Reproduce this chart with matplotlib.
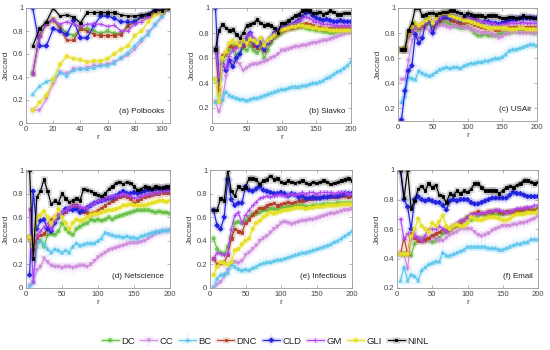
import matplotlib
matplotlib.use("Agg")
import matplotlib.pyplot as plt
import matplotlib.patheffects as pe
import numpy as np

plt.rcParams['font.family'] = ['Liberation Sans', 'DejaVu Sans']

methods = ['DC', 'CC', 'BC', 'DNC', 'CLD', 'GM', 'GLI', 'NINL']
colors = ['#5ec43a', '#d08ae0', '#5ac8f0', '#b0402a', '#2222dd', '#b044f0', '#e6e025', '#000000']
markers = ['o', 'v', '^', 's', 'D', '+', 'o', 's']
filled = [False, False, False, True, True, True, True, True]

r_a = list(range(5, 106, 5))
r_full = list(range(5, 201, 5))

# (a) Polbooks
a_DC = [0.43,0.76,0.86,0.90,0.84,0.78,0.76,0.82,0.82,0.80,0.78,0.80,0.78,0.78,0.84,0.88,0.92,0.93,0.97,0.98,1.0]
a_CC = [0.11,0.11,0.21,0.34,0.44,0.43,0.47,0.47,0.48,0.50,0.50,0.51,0.53,0.56,0.59,0.64,0.71,0.79,0.85,0.92,1.0]
a_BC = [0.25,0.32,0.36,0.38,0.44,0.41,0.46,0.47,0.47,0.48,0.50,0.50,0.52,0.57,0.61,0.67,0.73,0.77,0.86,0.93,1.0]
a_DNC = [0.43,0.76,0.86,0.90,0.82,0.72,0.72,0.82,0.80,0.77,0.76,0.76,0.76,0.77,0.85,0.88,0.92,0.93,0.98,0.98,1.0]
a_CLD = [1.0,0.67,0.67,0.82,0.80,0.77,0.89,0.74,0.74,0.85,0.93,0.93,0.91,0.88,0.88,0.88,0.93,0.94,0.99,0.98,1.0]
a_GM = [0.43,0.76,0.86,0.90,0.86,0.88,0.86,0.84,0.86,0.86,0.86,0.84,0.85,0.80,0.80,0.86,0.88,0.92,0.96,0.98,1.0]
a_GLI = [0.11,0.18,0.24,0.38,0.51,0.58,0.56,0.55,0.53,0.54,0.54,0.56,0.60,0.64,0.67,0.76,0.80,0.88,0.94,0.96,1.0]
a_NINL = [0.67,0.82,0.88,1.0,0.93,0.94,0.92,0.87,0.96,0.96,0.96,0.96,0.96,0.94,0.93,0.93,0.94,0.95,0.98,0.98,1.0]

# (b) Slavko
b_DC = [0.43,0.30,0.58,0.62,0.66,0.70,0.62,0.64,0.68,0.66,0.70,0.66,0.64,0.68,0.60,0.66,0.72,0.76,0.78,0.80,0.82,0.83,0.84,0.84,0.85,0.85,0.84,0.83,0.83,0.82,0.82,0.81,0.81,0.80,0.80,0.81,0.81,0.81,0.81,0.81]
b_CC = [0.25,0.17,0.26,0.45,0.55,0.57,0.57,0.55,0.50,0.52,0.54,0.55,0.55,0.56,0.57,0.58,0.60,0.61,0.63,0.66,0.66,0.67,0.68,0.69,0.69,0.70,0.70,0.71,0.72,0.72,0.73,0.74,0.74,0.75,0.76,0.77,0.78,0.79,0.80,0.80]
b_BC = [0.25,0.25,0.27,0.33,0.30,0.29,0.28,0.27,0.27,0.26,0.27,0.28,0.28,0.29,0.30,0.31,0.32,0.33,0.34,0.35,0.35,0.36,0.37,0.37,0.37,0.38,0.38,0.39,0.40,0.40,0.41,0.42,0.44,0.45,0.47,0.49,0.50,0.52,0.54,0.57]
b_DNC = [0.67,0.35,0.62,0.64,0.70,0.68,0.70,0.72,0.70,0.72,0.74,0.70,0.68,0.72,0.66,0.72,0.75,0.78,0.80,0.82,0.83,0.84,0.84,0.85,0.86,0.87,0.88,0.87,0.86,0.85,0.85,0.84,0.84,0.84,0.84,0.84,0.84,0.84,0.84,0.84]
b_CLD = [1.0,0.43,0.55,0.50,0.58,0.53,0.60,0.63,0.72,0.75,0.80,0.73,0.70,0.74,0.67,0.72,0.76,0.80,0.82,0.84,0.86,0.86,0.86,0.88,0.90,0.93,0.96,0.97,0.94,0.92,0.91,0.90,0.91,0.90,0.89,0.89,0.90,0.89,0.89,0.89]
b_GM = [0.67,0.45,0.55,0.52,0.62,0.66,0.68,0.70,0.74,0.78,0.80,0.76,0.72,0.76,0.70,0.74,0.77,0.80,0.82,0.84,0.85,0.86,0.87,0.88,0.90,0.92,0.93,0.92,0.90,0.89,0.88,0.87,0.87,0.87,0.86,0.86,0.86,0.86,0.86,0.86]
b_GLI = [0.43,0.25,0.60,0.65,0.72,0.74,0.72,0.70,0.74,0.72,0.75,0.74,0.72,0.76,0.70,0.74,0.76,0.78,0.80,0.82,0.83,0.84,0.85,0.85,0.86,0.86,0.85,0.85,0.84,0.84,0.83,0.83,0.83,0.82,0.82,0.82,0.82,0.82,0.82,0.82]
b_NINL = [0.67,0.82,0.87,0.84,0.82,0.83,0.79,0.76,0.80,0.86,0.87,0.88,0.91,0.88,0.86,0.87,0.86,0.84,0.80,0.88,0.88,0.90,0.92,0.94,0.95,0.98,0.99,0.98,0.96,0.96,0.97,0.95,0.96,0.98,0.97,0.95,0.95,0.96,0.96,0.96]

# (c) USAir
c_DC = [0.67,0.67,0.78,0.82,0.84,0.82,0.84,0.86,0.88,0.84,0.86,0.88,0.89,0.88,0.87,0.86,0.85,0.84,0.84,0.85,0.83,0.80,0.78,0.78,0.79,0.78,0.78,0.78,0.79,0.80,0.80,0.80,0.81,0.81,0.81,0.81,0.81,0.81,0.80,0.80]
c_CC = [0.43,0.43,0.58,0.74,0.80,0.76,0.86,0.84,0.82,0.80,0.84,0.86,0.86,0.85,0.84,0.85,0.86,0.85,0.84,0.84,0.83,0.82,0.81,0.80,0.80,0.80,0.79,0.78,0.76,0.77,0.79,0.80,0.81,0.81,0.80,0.80,0.80,0.80,0.80,0.80]
c_BC = [0.25,0.30,0.45,0.44,0.43,0.50,0.48,0.47,0.46,0.47,0.49,0.51,0.52,0.53,0.52,0.53,0.53,0.52,0.54,0.55,0.56,0.56,0.57,0.57,0.58,0.58,0.59,0.60,0.60,0.61,0.63,0.66,0.67,0.67,0.68,0.69,0.70,0.71,0.71,0.70]
c_DNC = [0.67,0.67,0.80,0.82,0.86,0.84,0.86,0.88,0.90,0.86,0.88,0.90,0.92,0.92,0.91,0.90,0.89,0.88,0.88,0.89,0.88,0.87,0.86,0.85,0.84,0.84,0.84,0.83,0.83,0.84,0.84,0.85,0.85,0.85,0.85,0.85,0.85,0.85,0.85,0.85]
c_CLD = [0.11,0.34,0.50,0.54,0.79,0.72,0.76,0.89,0.90,0.80,0.89,0.92,0.93,0.93,0.92,0.93,0.92,0.90,0.91,0.93,0.92,0.91,0.89,0.88,0.89,0.89,0.88,0.88,0.87,0.88,0.89,0.90,0.91,0.91,0.92,0.92,0.92,0.92,0.92,0.92]
c_GM = [0.67,0.67,0.78,0.82,0.85,0.85,0.88,0.90,0.92,0.88,0.90,0.93,0.95,0.95,0.94,0.93,0.92,0.92,0.91,0.92,0.92,0.91,0.90,0.89,0.89,0.88,0.88,0.87,0.86,0.87,0.87,0.88,0.88,0.88,0.88,0.89,0.88,0.88,0.88,0.88]
c_GLI = [0.67,0.67,0.80,0.85,0.88,0.86,0.88,0.90,0.92,0.88,0.92,0.95,0.96,0.96,0.94,0.93,0.92,0.91,0.90,0.90,0.89,0.88,0.87,0.86,0.85,0.84,0.84,0.84,0.84,0.84,0.84,0.83,0.83,0.83,0.84,0.84,0.83,0.83,0.83,0.83]
c_NINL = [0.67,0.67,0.82,0.88,1.0,1.0,0.94,0.95,0.96,0.96,0.95,0.96,0.97,0.97,0.98,0.98,0.97,0.96,0.94,0.96,0.95,0.94,0.94,0.94,0.93,0.94,0.94,0.94,0.93,0.92,0.92,0.93,0.93,0.92,0.92,0.94,0.93,0.93,0.92,0.92]

# (d) Netscience
d_DC = [0.43,0.30,0.38,0.40,0.35,0.45,0.46,0.45,0.48,0.55,0.50,0.47,0.45,0.50,0.52,0.54,0.55,0.58,0.57,0.58,0.57,0.58,0.60,0.58,0.60,0.61,0.62,0.63,0.64,0.65,0.66,0.66,0.66,0.66,0.65,0.64,0.65,0.64,0.64,0.63]
d_CC = [0.02,0.05,0.15,0.18,0.25,0.22,0.19,0.18,0.18,0.17,0.18,0.18,0.17,0.18,0.19,0.19,0.18,0.20,0.23,0.26,0.28,0.30,0.32,0.33,0.34,0.35,0.36,0.37,0.38,0.38,0.38,0.39,0.40,0.42,0.44,0.46,0.47,0.48,0.48,0.49]
d_BC = [0.0,0.05,0.35,0.40,0.37,0.33,0.30,0.33,0.32,0.30,0.32,0.30,0.35,0.38,0.36,0.37,0.38,0.38,0.38,0.40,0.42,0.47,0.46,0.45,0.44,0.44,0.43,0.44,0.43,0.43,0.42,0.44,0.45,0.46,0.47,0.48,0.48,0.49,0.49,0.49]
d_DNC = [0.43,0.33,0.43,0.45,0.46,0.50,0.58,0.60,0.62,0.64,0.65,0.68,0.70,0.70,0.68,0.65,0.64,0.63,0.64,0.66,0.68,0.70,0.72,0.74,0.76,0.77,0.78,0.77,0.76,0.72,0.74,0.76,0.77,0.78,0.79,0.80,0.80,0.81,0.81,0.81]
d_CLD = [0.11,0.82,0.50,0.57,0.58,0.50,0.48,0.55,0.60,0.63,0.67,0.67,0.66,0.67,0.64,0.66,0.68,0.70,0.72,0.73,0.74,0.75,0.76,0.77,0.78,0.80,0.82,0.80,0.80,0.81,0.80,0.81,0.82,0.83,0.83,0.84,0.84,0.84,0.84,0.84]
d_GM = [0.67,0.05,0.45,0.48,0.52,0.55,0.50,0.58,0.62,0.64,0.66,0.68,0.70,0.70,0.69,0.68,0.68,0.70,0.72,0.74,0.75,0.76,0.77,0.78,0.78,0.79,0.80,0.79,0.78,0.76,0.77,0.78,0.79,0.80,0.80,0.81,0.81,0.82,0.82,0.82]
d_GLI = [0.43,0.35,0.60,0.62,0.65,0.60,0.55,0.60,0.67,0.60,0.55,0.50,0.55,0.58,0.57,0.58,0.60,0.62,0.63,0.63,0.64,0.65,0.66,0.66,0.67,0.68,0.70,0.70,0.71,0.70,0.70,0.70,0.70,0.71,0.72,0.73,0.74,0.74,0.73,0.74]
d_NINL = [1.0,0.25,0.77,0.82,0.92,0.82,0.71,0.74,0.72,0.80,0.76,0.73,0.74,0.76,0.74,0.84,0.83,0.82,0.80,0.79,0.78,0.80,0.84,0.86,0.89,0.90,0.88,0.90,0.89,0.86,0.83,0.84,0.86,0.85,0.84,0.86,0.85,0.85,0.86,0.86]

# (e) Infectious
e_DC = [0.42,0.33,0.30,0.29,0.35,0.43,0.55,0.56,0.55,0.57,0.60,0.63,0.63,0.64,0.66,0.66,0.67,0.67,0.66,0.68,0.68,0.69,0.69,0.70,0.70,0.70,0.69,0.69,0.70,0.70,0.70,0.71,0.71,0.71,0.71,0.72,0.72,0.72,0.72,0.72]
e_CC = [0.0,0.03,0.05,0.10,0.15,0.20,0.22,0.21,0.23,0.28,0.30,0.33,0.36,0.40,0.42,0.44,0.47,0.50,0.52,0.55,0.56,0.55,0.54,0.55,0.56,0.57,0.57,0.58,0.58,0.59,0.60,0.61,0.62,0.63,0.63,0.64,0.65,0.66,0.66,0.67]
e_BC = [0.0,0.08,0.11,0.12,0.13,0.20,0.18,0.16,0.15,0.16,0.15,0.17,0.18,0.20,0.21,0.22,0.22,0.23,0.24,0.24,0.25,0.26,0.27,0.28,0.29,0.30,0.30,0.31,0.32,0.33,0.34,0.35,0.36,0.37,0.39,0.40,0.42,0.44,0.46,0.48]
e_DNC = [0.25,0.20,0.21,0.22,0.28,0.42,0.50,0.48,0.47,0.55,0.58,0.62,0.65,0.68,0.68,0.70,0.71,0.72,0.70,0.71,0.72,0.73,0.72,0.73,0.74,0.74,0.75,0.76,0.76,0.77,0.77,0.77,0.77,0.77,0.77,0.77,0.78,0.78,0.77,0.78]
e_CLD = [0.66,0.53,0.50,0.60,0.92,0.75,0.70,0.72,0.72,0.86,0.83,0.82,0.84,0.86,0.83,0.82,0.81,0.80,0.80,0.81,0.80,0.78,0.80,0.79,0.77,0.78,0.76,0.76,0.77,0.76,0.76,0.77,0.77,0.78,0.78,0.78,0.79,0.80,0.80,0.80]
e_GM = [0.25,0.30,0.29,0.28,0.30,0.50,0.62,0.64,0.55,0.62,0.66,0.70,0.73,0.76,0.77,0.78,0.77,0.78,0.79,0.79,0.78,0.79,0.80,0.79,0.80,0.81,0.80,0.81,0.81,0.80,0.81,0.81,0.81,0.81,0.80,0.81,0.81,0.81,0.80,0.80]
e_GLI = [0.11,0.18,0.22,0.21,0.20,0.22,0.32,0.33,0.37,0.40,0.42,0.50,0.55,0.57,0.60,0.62,0.64,0.63,0.64,0.65,0.66,0.66,0.67,0.68,0.68,0.68,0.67,0.68,0.68,0.69,0.69,0.69,0.70,0.70,0.70,0.70,0.71,0.71,0.71,0.71]
e_NINL = [0.66,0.66,0.76,0.74,1.0,0.82,0.78,0.86,0.84,0.85,0.93,0.93,0.92,0.88,0.91,0.92,0.95,0.92,0.93,0.90,0.89,0.91,0.90,0.89,0.90,0.91,0.89,0.88,0.90,0.89,0.90,0.91,0.90,0.88,0.89,0.90,0.91,0.92,0.93,0.91]

# (f) Email
f_DC = [0.43,0.43,0.43,0.42,0.50,0.53,0.54,0.52,0.53,0.51,0.52,0.54,0.57,0.58,0.59,0.61,0.62,0.64,0.66,0.68,0.66,0.67,0.69,0.70,0.69,0.69,0.70,0.70,0.70,0.70,0.71,0.71,0.71,0.71,0.72,0.72,0.73,0.73,0.73,0.74]
f_CC = [0.43,0.43,0.33,0.55,0.57,0.54,0.52,0.53,0.52,0.55,0.53,0.52,0.52,0.54,0.56,0.57,0.58,0.60,0.60,0.60,0.60,0.58,0.56,0.55,0.56,0.57,0.59,0.60,0.61,0.62,0.62,0.62,0.63,0.63,0.64,0.64,0.65,0.66,0.67,0.69]
f_BC = [0.25,0.34,0.25,0.29,0.28,0.25,0.32,0.34,0.36,0.37,0.38,0.38,0.44,0.42,0.42,0.43,0.44,0.45,0.46,0.48,0.48,0.48,0.48,0.48,0.48,0.47,0.47,0.47,0.46,0.46,0.47,0.48,0.49,0.50,0.50,0.51,0.51,0.53,0.53,0.53]
f_DNC = [0.43,0.54,0.43,0.57,0.54,0.52,0.52,0.53,0.54,0.56,0.57,0.58,0.60,0.59,0.60,0.62,0.63,0.64,0.66,0.68,0.70,0.71,0.72,0.71,0.71,0.72,0.72,0.73,0.72,0.71,0.72,0.72,0.72,0.73,0.73,0.74,0.74,0.73,0.73,0.74]
f_CLD = [1.0,0.80,0.75,0.60,0.80,0.82,0.80,0.79,0.80,0.79,0.78,0.78,0.76,0.73,0.79,0.80,0.79,0.80,0.80,0.80,0.78,0.77,0.77,0.78,0.79,0.80,0.81,0.81,0.81,0.81,0.81,0.83,0.85,0.84,0.84,0.83,0.82,0.82,0.82,0.82]
f_GM = [0.67,0.53,0.57,0.54,0.55,0.54,0.52,0.56,0.60,0.60,0.60,0.62,0.60,0.58,0.60,0.62,0.64,0.66,0.66,0.68,0.70,0.70,0.70,0.71,0.71,0.72,0.72,0.73,0.73,0.72,0.71,0.72,0.73,0.74,0.74,0.74,0.75,0.75,0.76,0.76]
f_GLI = [0.43,0.43,0.43,0.55,0.60,0.67,0.62,0.60,0.58,0.64,0.62,0.65,0.69,0.62,0.60,0.62,0.63,0.62,0.62,0.64,0.68,0.67,0.66,0.66,0.67,0.68,0.68,0.68,0.67,0.66,0.66,0.67,0.69,0.70,0.70,0.70,0.71,0.71,0.71,0.72]
f_NINL = [1.0,0.81,1.0,0.74,0.79,0.87,0.89,0.86,0.91,0.88,0.90,0.83,0.82,0.78,0.84,0.83,0.86,0.84,0.86,0.85,0.87,0.91,0.91,0.88,0.86,0.86,0.86,0.86,0.84,0.86,0.88,0.89,0.88,0.90,0.91,0.93,0.93,0.92,0.91,0.92]

panels = [
    ('(a) Polbooks', r_a, [a_DC, a_CC, a_BC, a_DNC, a_CLD, a_GM, a_GLI, a_NINL], (0, 106), (0, 1), [0, 20, 40, 60, 80, 100], [0, 0.2, 0.4, 0.6, 0.8, 1]),
    ('(b) Slavko', r_full, [b_DC, b_CC, b_BC, b_DNC, b_CLD, b_GM, b_GLI, b_NINL], (0, 200), (0.08, 1), [0, 50, 100, 150, 200], [0.2, 0.4, 0.6, 0.8, 1]),
    ('(c) USAir', r_full, [c_DC, c_CC, c_BC, c_DNC, c_CLD, c_GM, c_GLI, c_NINL], (0, 200), (0.1, 1), [0, 50, 100, 150, 200], [0.2, 0.4, 0.6, 0.8, 1]),
    ('(d) Netscience', r_full, [d_DC, d_CC, d_BC, d_DNC, d_CLD, d_GM, d_GLI, d_NINL], (0, 200), (0, 1), [0, 50, 100, 150, 200], [0, 0.2, 0.4, 0.6, 0.8, 1]),
    ('(e) Infectious', r_full, [e_DC, e_CC, e_BC, e_DNC, e_CLD, e_GM, e_GLI, e_NINL], (0, 200), (0, 1), [0, 50, 100, 150, 200], [0, 0.2, 0.4, 0.6, 0.8, 1]),
    ('(f) Email', r_full, [f_DC, f_CC, f_BC, f_DNC, f_CLD, f_GM, f_GLI, f_NINL], (0, 200), (0.2, 1), [0, 50, 100, 150, 200], [0.2, 0.4, 0.6, 0.8, 1]),
]

# axes rectangles in pixels: left, top, right, bottom
rects = [(26, 8, 170, 123), (212, 8, 351, 123), (398, 8, 537, 121),
         (26, 170, 170, 288), (210, 170, 352, 288), (397, 170, 538, 288)]

W, H = 550, 350
fig = plt.figure(figsize=(5.5, 3.5), dpi=100)

spine_c = '#999999'
text_c = '#444444'
handles = []
for (title, xs, series, xl, yl, xt, yt), (l, t, rr, b) in zip(panels, rects):
    ax = fig.add_axes([l / W, 1 - b / H, (rr - l) / W, (b - t) / H])
    for k, (m, col, mk, fl) in enumerate(zip(methods, colors, markers, filled)):
        ms = 3.0 if mk == '+' else (1.8 if mk == 's' else 2.3)
        ln, = ax.plot(xs, series[k], color=col, lw=0.85, marker=mk, ms=ms,
                      mfc=(col if fl else 'none'), mec=col, mew=0.6, label=m,
                      path_effects=[pe.Stroke(linewidth=3.5, foreground=col, alpha=0.12), pe.Normal()])
        if len(handles) < len(methods):
            handles.append(ln)
    ax.set_xlim(*xl)
    ax.set_ylim(*yl)
    ax.set_xticks(xt)
    ax.set_yticks(yt)
    ax.set_yticklabels(['0' if v == 0 else ('1' if v == 1 else f'{v:g}') for v in yt])
    ax.tick_params(direction='in', length=2, width=0.5, colors=spine_c, labelcolor=text_c,
                   labelsize=5.5, pad=2, top=True, right=True)
    for s in ax.spines.values():
        s.set_color(spine_c)
        s.set_linewidth(0.6)
    ax.set_ylabel('Jaccard', fontsize=6, color=text_c, labelpad=2)
    ax.set_xlabel('r', fontsize=6, color=text_c, labelpad=1)
    ax.text(0.96, 0.07, title, transform=ax.transAxes, ha='right', va='bottom',
            fontsize=5.8, color='#222222')

fig.legend(handles, methods, loc='center', bbox_to_anchor=(265 / W, 1 - 341 / H), ncol=8,
           frameon=False, fontsize=6.8, handlelength=1.8, handletextpad=0.25, columnspacing=0.6,
           labelcolor='#222222')

fig.savefig('out.png', dpi=100)
